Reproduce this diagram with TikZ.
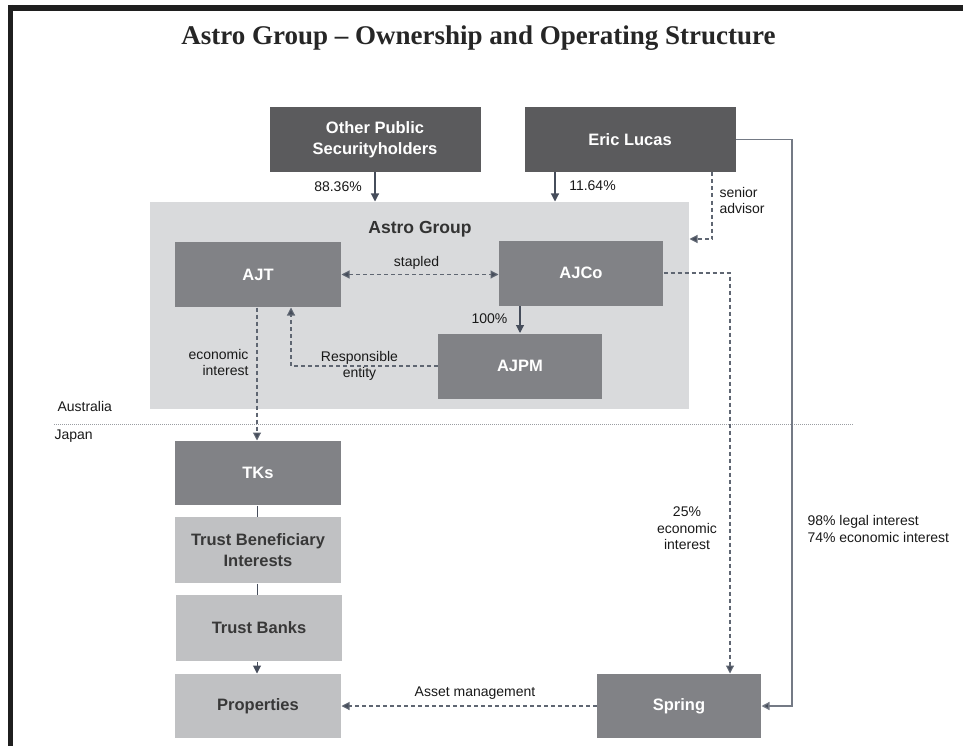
\documentclass[tikz,border=0pt]{standalone}
\usepackage{fontspec}
\setmainfont{Liberation Sans}
\newfontfamily\titlefont{Liberation Serif}
\usepackage{xcolor}
\definecolor{OWNcolor}{HTML}{5B5B5D}
\definecolor{ENTcolor}{HTML}{818286}
\definecolor{JPcolor}{HTML}{C0C1C3}
\definecolor{GRPcolor}{HTML}{D9DADC}
\definecolor{LINEcolor}{HTML}{464D5B}
\definecolor{DASHcolor}{HTML}{5F6672}
\definecolor{LEGALcolor}{HTML}{747A85}
\definecolor{SEPcolor}{HTML}{9A9DA2}
\usepackage{tikz}
\usetikzlibrary{%
        calc,
        math,
        arrows.meta, % 箭头
    }

\begin{document}
\begin{tikzpicture}[x=1pt, y=-1pt, line width=1pt]
    \tikzmath{%
        % box 宽
        \wEnt=166;
        \wOwn=211;
        % box 高
        \hBox=65;
        % 字号
        \fsBox=16.5;
        \fsLabel=14;
    };

    \tikzset{%
        box/.style={rectangle, inner sep=0pt, minimum height=\hBox pt, align=center, text=white, font=\fontsize{\fsBox}{20.5}\selectfont\bfseries},
        ownbox/.style={box, fill=OWNcolor, minimum width=\wOwn pt},
        entbox/.style={box, fill=ENTcolor, minimum width=\wEnt pt},
        jpbox/.style={box, fill=JPcolor, minimum width=\wEnt pt, text=black!78},
        label/.style={inner sep=0pt, text=black!90, font=\fontsize{\fsLabel}{16.4}\selectfont},
        solidarrow/.style={LINEcolor, line width=1.1pt, -{Triangle[length=8pt, width=8pt]}},
        dasharrow/.style={DASHcolor, line width=1.1pt, dash pattern=on 4pt off 3pt, -{Triangle[length=8pt, width=8pt, fill=LINEcolor]}},
    }

    \useasboundingbox (0, 0) rectangle (963, 746);

    % 边框
    \draw [black!88, line width=6pt] (8, 8) -- (963, 8);
    \draw [black!88, line width=5pt] (10, 5) -- (10, 746);

    % 标题
    \node (title) at (478.5, 38) {\titlefont\bfseries\fontsize{27}{30}\selectfont\color{black!85}Astro Group – Ownership and Operating Structure};

    % Astro Group 底色
    \node (astro) [fill=GRPcolor, inner sep=0pt, minimum width=539pt, minimum height=207pt] at (419.5, 305.5) {};
    \node (astroname) [inner sep=0pt, text=black!80, font=\fontsize{17.5}{20}\selectfont\bfseries] at (420, 229) {Astro Group};

    % 顶部 box
    \node (other) [ownbox] at (375, 139.5) {Other Public\\Securityholders};
    \node (eric) [ownbox] at (630, 139.5) {Eric Lucas};

    % Astro Group 内部
    \node (ajt) [entbox] at (258, 274.5) {AJT};
    \node (ajco) [entbox, minimum width=164pt] at (581, 273) {AJCo};
    \node (ajpm) [entbox, minimum width=164pt] at (520, 366) {AJPM};

    % Japan
    \node (tks) [entbox, minimum height=64pt] at (258, 473) {TKs};
    \node (tbi) [jpbox, minimum height=66pt] at (258, 550) {Trust Beneficiary\\Interests};
    \node (banks) [jpbox, minimum height=66pt] at (259, 628) {Trust Banks};
    \node (props) [jpbox, minimum height=64pt] at (258, 706) {Properties};
    \node (spring) [entbox, minimum width=164pt, minimum height=64pt] at (679, 706) {Spring};

    % Australia / Japan 分界
    \coordinate (sepL) at (54, 424);
    \coordinate (sepR) at (853, 424);
    \draw [SEPcolor, line width=0.9pt, dash pattern=on 1pt off 1pt] (sepL) -- (sepR);
    \node (aus) [label, anchor=west] at (57, 406) {Australia};
    \node (jpn) [label, anchor=west] at (54, 436) {Japan};

    % 持股
    \draw [solidarrow] (other.south) -- (other |- astro.north);
    \node (pubpct) [label] at (338, 187) {88.36\%};
    \draw [solidarrow] ([xshift=-75pt] eric.south) -- ([xshift=-75pt] eric.south |- astro.north);
    \node (ericpct) [label] at (592.5, 186) {11.64\%};

    % senior advisor
    \coordinate (adv) at (712, 239);
    \draw [dasharrow] (eric.south -| adv) |- (astro.east |- adv);
    \node (advlabel) [label, anchor=west, align=left] at (719, 200.5) {senior\\advisor};

    % stapled
    \draw [dasharrow, {Triangle[length=8pt, width=8pt, fill=LINEcolor]}-{Triangle[length=8pt, width=8pt, fill=LINEcolor]}] (ajt.east) -- (ajt.east -| ajco.west);
    \node (stapled) [label] at (416.5, 263) {stapled};

    % AJCo -> AJPM
    \draw [solidarrow] (ajpm |- ajco.south) -- (ajpm.north);
    \node (ajpmpct) [label] at (489.5, 319) {100\%};

    % responsible entity
    \draw [dasharrow] (ajpm.west) -| ([xshift=33pt] ajt.south);
    \node (re) [label, align=center] at (359.5, 366) {Responsible\\entity};

    % AJT -> TKs
    \draw [dasharrow] ([xshift=-1pt] ajt.south) -- ([xshift=-1pt] tks.north);
    \node (econ) [label, anchor=east, align=right] at (249, 362.5) {economic\\interest};

    % TKs 往下
    \draw [LINEcolor] ([xshift=-1pt] tks.south) -- ([xshift=-1pt] tbi.north);
    \draw [LINEcolor] ([xshift=-1pt] tbi.south) -- ([xshift=-2pt] banks.north);
    \draw [solidarrow, line width=1pt] ([xshift=-2pt] banks.south) -- ([xshift=-1pt] props.north);

    % AJCo -> Spring
    \draw [dasharrow] (ajco.east) -| ([xshift=51pt] spring.north);
    \node (springpct) [label, align=center] at (687, 528.5) {25\%\\economic\\interest};

    % Eric Lucas -> Spring
    \coordinate (legal) at (792, 420);
    \draw [LEGALcolor, line width=1.3pt, arrows=-{Triangle[length=8pt, width=8pt, fill=LINEcolor]}] (eric.east) -| (legal) |- (spring.east);
    \node (legallabel) [label, anchor=west, align=left] at (807, 529) {98\% legal interest\\74\% economic interest};

    % asset management
    \draw [dasharrow] (spring.west) -- (props.east);
    \node (asset) [label] at (475, 693) {Asset management};
\end{tikzpicture}
\end{document}
